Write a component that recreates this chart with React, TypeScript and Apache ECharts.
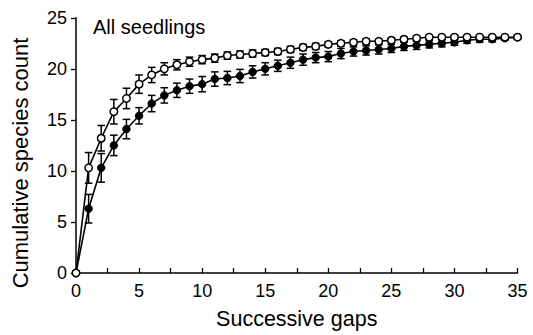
import React, { useEffect, useRef } from "react";
import * as echarts from "echarts";

const gaps = Array.from({ length: 36 }, (_, i) => i);
const openMean = [0, 10.3, 13.2, 15.8, 17.1, 18.5, 19.4, 20.0, 20.4, 20.7, 20.9, 21.05, 21.3, 21.4, 21.5, 21.6, 21.7, 21.9, 22.1, 22.2, 22.4, 22.5, 22.6, 22.7, 22.7, 22.8, 22.9, 23.0, 23.1, 23.1, 23.1, 23.1, 23.1, 23.1, 23.1, 23.1];
const openErr = [0, 1.5, 1.25, 1.2, 1.0, 0.9, 0.75, 0.6, 0.5, 0.45, 0.4, 0.4, 0.35, 0.35, 0.35, 0.3, 0.3, 0.3, 0.3, 0.3, 0.25, 0.25, 0.25, 0.25, 0.2, 0.2, 0.2, 0.2, 0.15, 0.15, 0.15, 0.15, 0.1, 0.1, 0.1, 0];
const filledMean = [0, 6.3, 10.3, 12.5, 14.1, 15.4, 16.6, 17.4, 17.9, 18.3, 18.5, 19.0, 19.1, 19.3, 19.7, 20.0, 20.3, 20.6, 20.9, 21.1, 21.2, 21.5, 21.7, 21.8, 21.9, 22.0, 22.2, 22.3, 22.4, 22.5, 22.6, 22.8, 22.9, 22.9, 23.0, 23.1];
const filledErr = [0, 1.4, 1.4, 1.0, 0.95, 0.8, 0.8, 0.75, 0.7, 0.7, 0.75, 0.7, 0.65, 0.65, 0.6, 0.6, 0.55, 0.55, 0.55, 0.5, 0.5, 0.5, 0.45, 0.45, 0.45, 0.4, 0.4, 0.4, 0.35, 0.35, 0.3, 0.3, 0.3, 0.25, 0.2, 0.15];

const FONT = "Liberation Sans, Arial, Helvetica, sans-serif";

function errData(mean: number[], err: number[]) {
  return gaps
    .map((g, i) => [g, mean[i] - err[i], mean[i] + err[i], err[i]])
    .filter((d) => d[3] > 0);
}

function renderErr(params: any, api: any) {
  const x = api.value(0);
  const lo = api.value(1);
  const hi = api.value(2);
  const top = api.coord([x, hi]);
  const bot = api.coord([x, lo]);
  const w = 3.8;
  const st = { stroke: "#000", lineWidth: 1.5 };
  return {
    type: "group",
    children: [
      { type: "line", shape: { x1: top[0], y1: top[1], x2: bot[0], y2: bot[1] }, style: st },
      { type: "line", shape: { x1: top[0] - w, y1: top[1], x2: top[0] + w, y2: top[1] }, style: st },
      { type: "line", shape: { x1: bot[0] - w, y1: bot[1], x2: bot[0] + w, y2: bot[1] }, style: st },
    ],
  };
}

export default function App() {
  const ref = useRef<HTMLDivElement>(null);
  useEffect(() => {
    if (!ref.current) return;
    const chart = echarts.init(ref.current, null, { renderer: "svg" });
    chart.setOption({
      animation: false,
      backgroundColor: "#fff",
      grid: { left: 76, right: 15.5, top: 17.8, bottom: 55.7, containLabel: false },
      graphic: [
        {
          type: "text",
          left: 93,
          top: 17,
          style: { text: "All seedlings", font: `20px ${FONT}`, fill: "#000" },
        },
        {
          type: "text",
          x: 20,
          y: 163,
          rotation: Math.PI / 2,
          style: {
            text: "Cumulative species count",
            font: `22px ${FONT}`,
            fill: "#000",
            align: "center",
            verticalAlign: "middle",
          },
        },
      ],
      xAxis: {
        type: "value",
        min: 0,
        max: 35,
        interval: 2.5,
        splitLine: { show: false },
        axisLine: { show: true, lineStyle: { color: "#000", width: 1.5 } },
        axisTick: { show: true, inside: true, length: 5, lineStyle: { color: "#000", width: 1.3 } },
        axisLabel: {
          color: "#000",
          fontSize: 18,
          fontFamily: FONT,
          margin: 9,
          formatter: (v: number) => (v % 5 === 0 ? String(v) : ""),
        },
        name: "Successive gaps",
        nameLocation: "middle",
        nameGap: 35,
        nameTextStyle: { color: "#000", fontSize: 21.5, fontFamily: FONT },
      },
      yAxis: {
        type: "value",
        min: 0,
        max: 25,
        interval: 5,
        splitLine: { show: false },
        axisLine: { show: true, lineStyle: { color: "#000", width: 1.5 } },
        axisTick: { show: true, inside: false, length: 5, lineStyle: { color: "#000", width: 1.3 } },
        axisLabel: { color: "#000", fontSize: 18, fontFamily: FONT, margin: 9 },
      },
      series: [
        {
          type: "custom",
          renderItem: renderErr,
          data: errData(filledMean, filledErr),
          encode: { x: 0, y: [1, 2] },
          z: 2,
          silent: true,
        },
        {
          type: "line",
          data: gaps.map((g, i) => [g, filledMean[i]]),
          symbol: "circle",
          symbolSize: 7.5,
          itemStyle: { color: "#000", borderColor: "#000", borderWidth: 1 },
          lineStyle: { color: "#000", width: 1.6 },
          z: 3,
        },
        {
          type: "custom",
          renderItem: renderErr,
          data: errData(openMean, openErr),
          encode: { x: 0, y: [1, 2] },
          z: 4,
          silent: true,
        },
        {
          type: "line",
          data: gaps.map((g, i) => [g, openMean[i]]),
          symbol: "circle",
          symbolSize: 7.5,
          itemStyle: { color: "#fff", borderColor: "#000", borderWidth: 1.5 },
          lineStyle: { color: "#000", width: 1.6 },
          z: 5,
        },
      ],
    });
    return () => chart.dispose();
  }, []);
  return (
    <div
      ref={ref}
      style={{ position: "absolute", left: 0, top: 0, width: 533, height: 335 }}
    />
  );
}
